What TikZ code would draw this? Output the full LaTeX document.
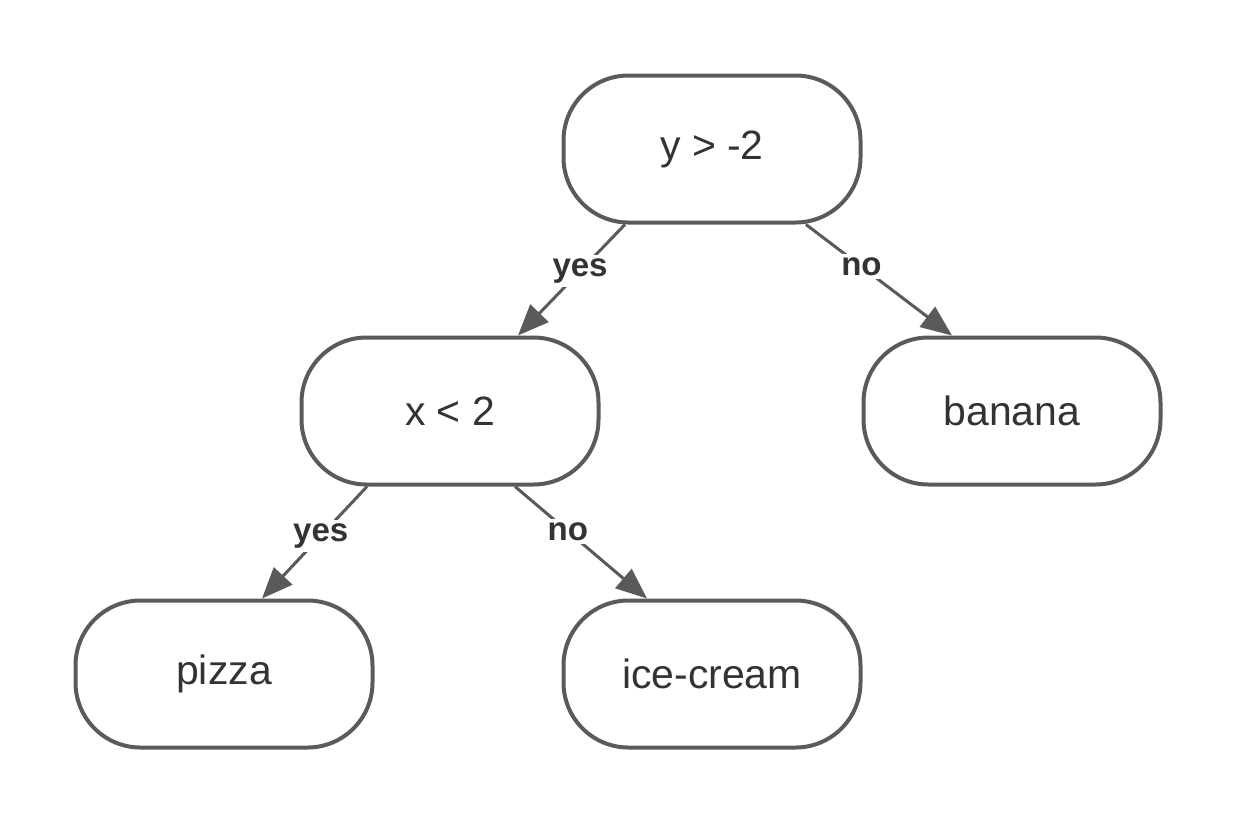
\documentclass[tikz,border=0pt]{standalone}
\usepackage{fontspec}
\setmainfont{Liberation Sans}
\usetikzlibrary{arrows.meta}
\definecolor{linegray}{HTML}{5A5A5A}
\definecolor{textgray}{HTML}{333333}
\begin{document}
\begin{tikzpicture}
  \tikzset{
  leaf_node/.style={
    draw=linegray, line width=0.08cm, rounded corners=1.3cm,
    minimum width=5.94cm, minimum height=2.94cm,
    text=textgray, font=\fontsize{23.3}{28}\selectfont
  },
  branch_arrow/.style={
    draw=linegray, line width=0.06cm,
    -{Triangle[length=0.62cm, width=0.5cm]}
  },
  branch_label/.style={
    fill=white, text=textgray, inner sep=2pt,
    font=\fontsize{18.8}{22}\selectfont\bfseries
  }
}

  % frame
  \useasboundingbox (0,0) rectangle (24.76,-16.5);

  % tree nodes
  \node[leaf_node] (root) at (14.24, -2.98) {y > -2};
  \node[leaf_node] (xlt) at (9.00, -8.22) {x < 2};
  \node[leaf_node] (banana) at (20.24, -8.22) {banana};
  \node[leaf_node] (pizza) at (4.48, -13.48) {pizza};
  \node[leaf_node] (icecream) at (14.24, -13.48) {ice-cream};

  % branches
  \draw[branch_arrow] ([xshift=-1.74cm]root.south) -- node[branch_label, pos=0.42] {yes} ([xshift=1.36cm]xlt.north);
  \draw[branch_arrow] ([xshift=1.88cm]root.south) -- node[branch_label, pos=0.38] {no} ([xshift=-1.2cm]banana.north);
  \draw[branch_arrow] ([xshift=-1.66cm]xlt.south) -- node[branch_label, pos=0.44] {yes} ([xshift=0.76cm]pizza.north);
  \draw[branch_arrow] ([xshift=1.3cm]xlt.south) -- node[branch_label, pos=0.4] {no} ([xshift=-1.3cm]icecream.north);
\end{tikzpicture}
\end{document}
